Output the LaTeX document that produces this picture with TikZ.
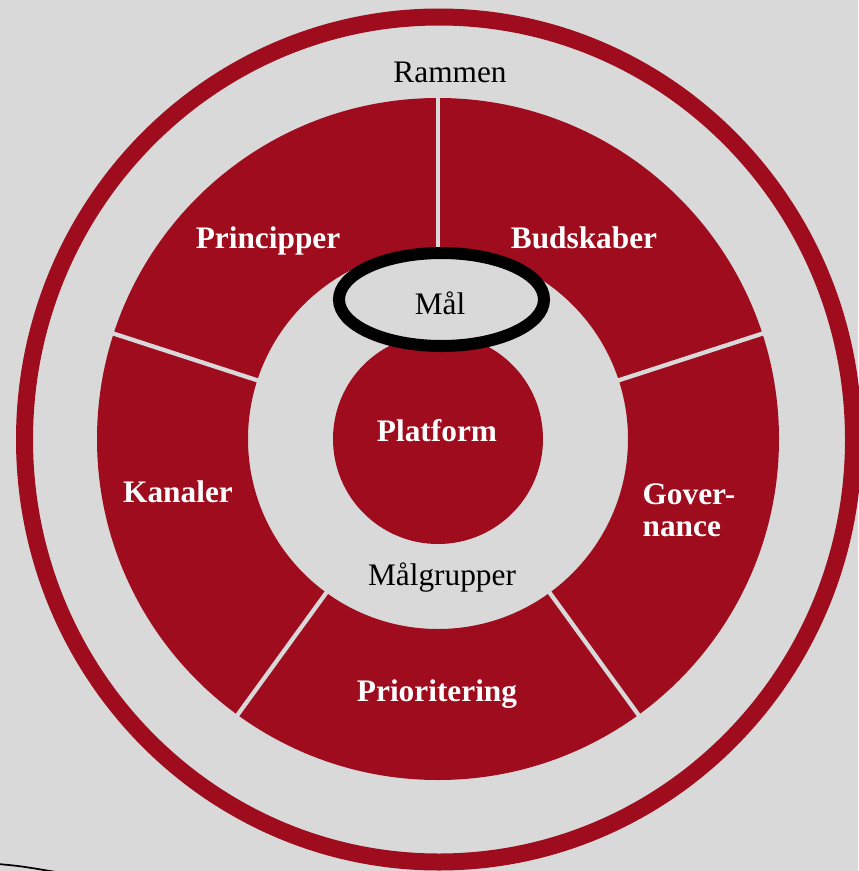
\documentclass[tikz,border=0pt]{standalone}
\usepackage{fontspec}
\setmainfont{Liberation Serif}
\usetikzlibrary{shapes.geometric, positioning}

\definecolor{bordeaux}{RGB}{158,12,30}
\definecolor{bggray}{RGB}{217,217,217}

\tikzset{
  sectorlabel/.style={font=\bfseries\fontsize{23.5}{24}\selectfont, text=white, inner sep=0pt},
  plainlabel/.style={font=\fontsize{23.5}{24}\selectfont, text=black, inner sep=0pt},
  divider/.style={bggray, line width=3.2pt},
}

\begin{document}
\begin{tikzpicture}[x=0.75pt,y=-0.75pt]
   \useasboundingbox (0,0) rectangle (858,871);
   \fill[bggray] (0,0) rectangle (858,871);
   \coordinate (centre) at (438,439);

   % outer frame
   \draw[bordeaux, line width=12.75pt] (439,439.5) ellipse [x radius=414.5, y radius=422.5];

   % red ring with five sectors
   \fill[bordeaux, even odd rule] (centre) circle [radius=341] (centre) circle [radius=190];
   \foreach \a in {-90,-18,54,126,198}
      \draw[divider] ([shift={(\a:189)}]centre) -- ([shift={(\a:343)}]centre);

   % core
   \node[circle, fill=bordeaux, minimum size=157.5pt, inner sep=0pt] (platform) at (centre) {};
   \node[sectorlabel] (platformtxt) at (437,431) {Platform};
   \node[ellipse, draw=black, fill=bggray, line width=9pt, minimum width=153.75pt, minimum height=69.75pt] (maal) at (441.5,299.5) {};
   \node[plainlabel] (maaltxt) at (440,303) {Mål};
   \node[plainlabel] (maalgrupper) at (442,578) {Målgrupper};

   % sector labels
   \node[sectorlabel] (principper) at (268,241) {Principper};
   \node[sectorlabel] (budskaber) at (584,238) {Budskaber};
   \node[sectorlabel] (kanaler) at (178,492) {Kanaler};
   \node[sectorlabel, align=left] (governance) at (689,510) {Gover-\\nance};
   \node[sectorlabel] (prioritering) at (437,694) {Prioritering};

   \node[plainlabel] (rammen) at (450,72) {Rammen};

   % stray stroke at the lower left
   \draw[line width=1.3pt] (-2,864) .. controls (20,866) .. (56,872);
\end{tikzpicture}
\end{document}
